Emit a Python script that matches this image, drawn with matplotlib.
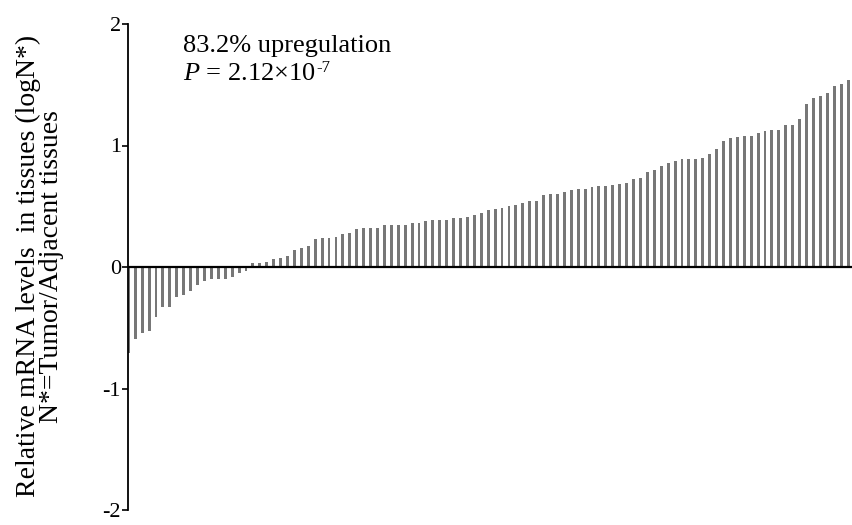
import matplotlib
matplotlib.use("Agg")
import matplotlib.pyplot as plt
import numpy as np

# log ratio (tumor / adjacent) per sample, sorted ascending
log_ratio = [
    -0.71, -0.59, -0.54, -0.53, -0.41, -0.33, -0.33, -0.25, -0.23, -0.20,
    -0.15, -0.115, -0.10, -0.10, -0.095, -0.085, -0.05, -0.03,
    0.03, 0.03, 0.045, 0.065, 0.07, 0.09, 0.14, 0.16, 0.17, 0.23,
    0.235, 0.24, 0.25, 0.27, 0.28, 0.31, 0.32, 0.325, 0.325, 0.345,
    0.345, 0.345, 0.345, 0.365, 0.365, 0.375, 0.385, 0.385, 0.39, 0.40,
    0.40, 0.41, 0.43, 0.445, 0.47, 0.48, 0.485, 0.50, 0.51, 0.525,
    0.54, 0.54, 0.595, 0.60, 0.60, 0.62, 0.63, 0.64, 0.645, 0.66,
    0.67, 0.67, 0.675, 0.685, 0.69, 0.725, 0.73, 0.78, 0.80, 0.83,
    0.86, 0.87, 0.885, 0.89, 0.89, 0.90, 0.93, 0.975, 1.04, 1.06,
    1.07, 1.08, 1.08, 1.105, 1.12, 1.125, 1.125, 1.165, 1.165, 1.22,
    1.34, 1.39, 1.41, 1.435, 1.49, 1.51, 1.54,
]
y_ticks = [-2, -1, 0, 1, 2]
y_label = "Relative mRNA levels  in tissues (logN*)\nN*=Tumor/Adjacent tissues"
note_line1 = "83.2% upregulation"
note_line2 = r"$P$ = 2.12×10"
note_exp = "-7"

plt.rcParams["font.family"] = "Liberation Serif"
plt.rcParams["mathtext.fontset"] = "custom"
plt.rcParams["mathtext.rm"] = "Liberation Serif"
plt.rcParams["mathtext.it"] = "Liberation Serif:italic"
plt.rcParams["axes.unicode_minus"] = False

fig = plt.figure(figsize=(8.52, 5.25), dpi=100)
ax = fig.add_axes([128 / 852, 15 / 525, 724 / 852, 486 / 525])

x = np.arange(len(log_ratio))
ax.bar(x, log_ratio, width=0.42, color="#777777", linewidth=0, zorder=2)
ax.axhline(0, color="black", linewidth=1.6, zorder=3)

ax.set_xlim(-0.05, 104.57)
ax.set_ylim(-2, 2)
ax.set_yticks(y_ticks)
ax.set_yticklabels([str(t) for t in y_ticks], fontsize=16)
ax.tick_params(axis="y", direction="out", length=4, width=1.2, pad=1)
ax.set_xticks([])

for side in ["top", "right", "bottom"]:
    ax.spines[side].set_visible(False)
ax.spines["left"].set_linewidth(1.3)

fig.text(40 / 852, 0.493, y_label, rotation=90, ha="center", va="center",
         fontsize=20, linespacing=0.92)

ax.text(0.076, 0.942, note_line1, transform=ax.transAxes, fontsize=19,
        ha="left", va="baseline")
p_txt = ax.text(0.076, 0.885, note_line2, transform=ax.transAxes,
                fontsize=19, ha="left", va="baseline")
# exponent set as a small raised label after "10"
ax.annotate(note_exp, xy=(1, 1), xycoords=p_txt, xytext=(0.8, 2),
            textcoords="offset points", fontsize=12, ha="left", va="top")

fig.savefig("out.png", dpi=100)
